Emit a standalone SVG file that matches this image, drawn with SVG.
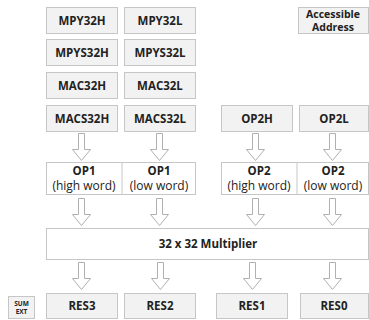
<svg xmlns="http://www.w3.org/2000/svg" width="369" height="320" viewBox="0 0 369 320">
<defs>
<style>
.reg{fill:#f2f2f2;stroke:#c6c6c6;stroke-width:1}
.op{fill:#ffffff;stroke:#c6c6c6;stroke-width:1}
.t{font-family:"Open Sans","Noto Sans",sans-serif;font-weight:bold;font-size:11.5px;fill:#222;text-anchor:middle}
.ta{font-family:"Open Sans","Noto Sans",sans-serif;font-weight:bold;font-size:10.5px;fill:#222;text-anchor:middle}
.tn{font-family:"Open Sans","Noto Sans",sans-serif;font-size:12px;fill:#222;text-anchor:middle}
.s{font-family:"Open Sans","Noto Sans",sans-serif;font-weight:bold;font-size:6.5px;fill:#222;text-anchor:middle}
.arr{fill:#ffffff;stroke:#b0b0b0;stroke-width:1}
</style>
<path id="a1" d="M-3,0 H3 V16 H9 L0,27 L-9,16 H-3 Z"/>
</defs>
<rect width="369" height="320" fill="#ffffff"/>
<g id="mpy32h"><rect class="reg" x="46.5" y="7.5" width="71" height="26"/><text class="t" x="82" y="24.5">MPY32H</text></g>
<g id="mpy32l"><rect class="reg" x="124.5" y="7.5" width="71" height="26"/><text class="t" x="160" y="24.5">MPY32L</text></g>
<g id="mpys32h"><rect class="reg" x="46.5" y="39.5" width="71" height="26"/><text class="t" x="82" y="56.5">MPYS32H</text></g>
<g id="mpys32l"><rect class="reg" x="124.5" y="39.5" width="71" height="26"/><text class="t" x="160" y="56.5">MPYS32L</text></g>
<g id="mac32h"><rect class="reg" x="46.5" y="72.5" width="71" height="26"/><text class="t" x="82" y="89.5">MAC32H</text></g>
<g id="mac32l"><rect class="reg" x="124.5" y="72.5" width="71" height="26"/><text class="t" x="160" y="89.5">MAC32L</text></g>
<g id="macs32h"><rect class="reg" x="46.5" y="105.5" width="71" height="26"/><text class="t" x="82" y="122.5">MACS32H</text></g>
<g id="macs32l"><rect class="reg" x="124.5" y="105.5" width="71" height="26"/><text class="t" x="160" y="122.5">MACS32L</text></g>
<g id="op2h"><rect class="reg" x="221.5" y="105.5" width="71" height="26"/><text class="t" x="257" y="122.5">OP2H</text></g>
<g id="op2l"><rect class="reg" x="299.5" y="105.5" width="69" height="26"/><text class="t" x="334" y="122.5">OP2L</text></g>
<g id="addr"><rect class="reg" x="298.5" y="7.5" width="70" height="26"/><text class="ta" x="333" y="17.5">Accessible</text><text class="ta" x="333" y="31">Address</text></g>
<g id="op1"><rect class="op" x="46.5" y="162.5" width="149" height="32"/><line x1="122" y1="162.5" x2="122" y2="194.5" stroke="#c6c6c6"/><text class="t" x="84" y="175">OP1</text><text class="tn" x="84" y="189.5">(high word)</text><text class="t" x="159" y="175">OP1</text><text class="tn" x="159" y="189.5">(low word)</text></g>
<g id="op2"><rect class="op" x="221.5" y="162.5" width="147" height="32"/><line x1="297" y1="162.5" x2="297" y2="194.5" stroke="#c6c6c6"/><text class="t" x="259" y="175">OP2</text><text class="tn" x="259" y="189.5">(high word)</text><text class="t" x="333" y="175">OP2</text><text class="tn" x="333" y="189.5">(low word)</text></g>
<g id="mult"><rect class="op" x="46.5" y="228.5" width="322" height="31"/><text class="t" x="208" y="248">32 x 32 Multiplier</text></g>
<g id="sumext"><rect class="reg" x="8.5" y="296.5" width="26" height="22"/><text class="s" x="21.5" y="305.5">SUM</text><text class="s" x="21.5" y="314">EXT</text></g>
<g id="res3"><rect class="reg" x="46.5" y="293.5" width="71" height="25"/><text class="t" x="82" y="310">RES3</text></g>
<g id="res2"><rect class="reg" x="124.5" y="293.5" width="71" height="25"/><text class="t" x="160" y="310">RES2</text></g>
<g id="res1"><rect class="reg" x="216.5" y="293.5" width="71" height="25"/><text class="t" x="252" y="310">RES1</text></g>
<g id="res0"><rect class="reg" x="300.5" y="293.5" width="68" height="25"/><text class="t" x="334" y="310">RES0</text></g>
<g id="connectors">
<use href="#a1" class="arr" transform="translate(81.5,133.5)"/>
<use href="#a1" class="arr" transform="translate(159.5,133.5)"/>
<use href="#a1" class="arr" transform="translate(255.5,133.5)"/>
<use href="#a1" class="arr" transform="translate(332.5,133.5)"/>
<use href="#a1" class="arr" transform="translate(81.5,198.5)"/>
<use href="#a1" class="arr" transform="translate(159.5,198.5)"/>
<use href="#a1" class="arr" transform="translate(255.5,198.5)"/>
<use href="#a1" class="arr" transform="translate(332.5,198.5)"/>
<use href="#a1" class="arr" transform="translate(81.5,262.5)"/>
<use href="#a1" class="arr" transform="translate(160.5,262.5)"/>
<use href="#a1" class="arr" transform="translate(252.5,262.5)"/>
<use href="#a1" class="arr" transform="translate(332.5,262.5)"/>
</g>
</svg>
